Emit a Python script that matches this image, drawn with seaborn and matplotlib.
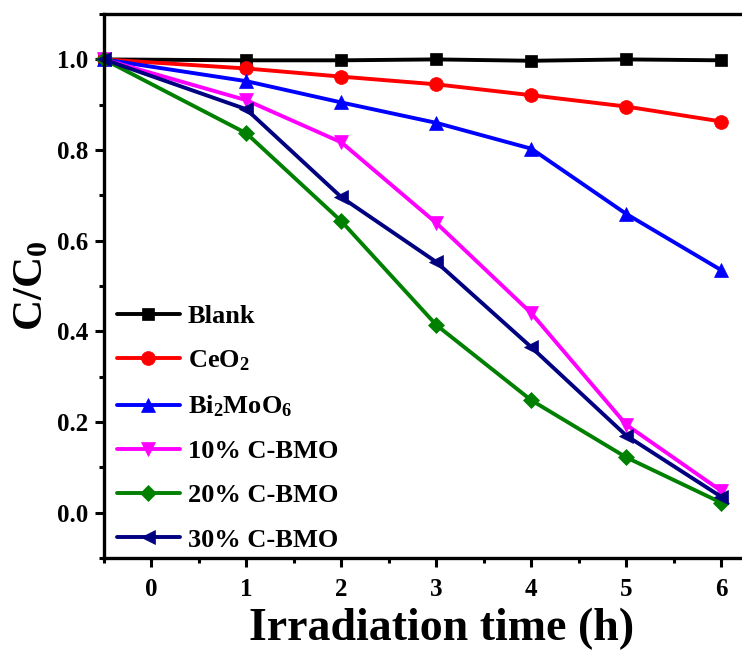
import numpy as np
import pandas as pd
import matplotlib
matplotlib.use("Agg")
import matplotlib.pyplot as plt
import seaborn as sns
from matplotlib.ticker import MultipleLocator

# ---- data ----
time_h = [-0.5, 1, 2, 3, 4, 5, 6]
blank = [1.000, 0.998, 0.998, 1.000, 0.997, 1.000, 0.998]
ceo2 = [1.000, 0.980, 0.962, 0.945, 0.921, 0.896, 0.863]
bmo = [1.000, 0.952, 0.905, 0.860, 0.803, 0.659, 0.535]
cbmo10 = [1.000, 0.910, 0.817, 0.639, 0.440, 0.194, 0.048]
cbmo20 = [1.000, 0.837, 0.643, 0.414, 0.248, 0.122, 0.022]
cbmo30 = [1.000, 0.890, 0.696, 0.553, 0.365, 0.170, 0.035]
labels = ["Blank", "CeO$_2$", "Bi$_2$MoO$_6$", "10% C-BMO", "20% C-BMO", "30% C-BMO"]
x_ticks = [0, 1, 2, 3, 4, 5, 6]
y_ticks = [0.0, 0.2, 0.4, 0.6, 0.8, 1.0]

series = [blank, ceo2, bmo, cbmo10, cbmo20, cbmo30]
colors = ["#000000", "#FF0000", "#0000FF", "#FF00FF", "#008000", "#000080"]
markers = ["s", "o", "^", "v", "D", "<"]
msizes = [9, 10, 10, 10, 8, 10]

sns.set_theme(style="white")
plt.rcParams["font.family"] = ["Liberation Serif", "DejaVu Serif"]
plt.rcParams["font.weight"] = "bold"
plt.rcParams["text.color"] = "black"
plt.rcParams["axes.labelcolor"] = "black"
plt.rcParams["xtick.color"] = "black"
plt.rcParams["ytick.color"] = "black"
plt.rcParams["mathtext.fontset"] = "custom"
plt.rcParams["mathtext.rm"] = "Liberation Serif:bold"
plt.rcParams["mathtext.it"] = "Liberation Serif:bold"
plt.rcParams["mathtext.bf"] = "Liberation Serif:bold"

fig = plt.figure(figsize=(7.42, 6.55), dpi=100)
ax = fig.add_axes([0.140, 0.148, 0.909, 0.8305])

for vals, lab, c, m, ms in zip(series, labels, colors, markers, msizes):
    df = pd.DataFrame({"t": time_h, "v": vals})
    sns.lineplot(data=df, x="t", y="v", ax=ax, color=c, marker=m, markersize=ms,
                 markeredgecolor=c, markeredgewidth=0.5, linewidth=2.8, label=lab,
                 clip_on=False)

ax.set_xlim(-0.5, 6.6)
ax.set_ylim(-0.1, 1.1)
ax.set_xticks(x_ticks)
ax.set_yticks(y_ticks)
ax.set_xticklabels([str(t) for t in x_ticks])
ax.set_yticklabels([f"{t:.1f}" for t in y_ticks])
ax.xaxis.set_minor_locator(MultipleLocator(0.5))
ax.yaxis.set_minor_locator(MultipleLocator(0.1))
ax.tick_params(which="major", direction="out", length=6.5, width=2.2, labelsize=18,
               pad=5, left=True, bottom=True)
ax.tick_params(which="major", axis="x", pad=8)
ax.tick_params(which="minor", direction="out", length=3.5, width=2.2, left=True, bottom=True)
for lab in ax.get_xticklabels() + ax.get_yticklabels():
    lab.set_fontweight("bold")
for s in ["left", "bottom", "top"]:
    ax.spines[s].set_linewidth(2.4)
    ax.spines[s].set_color("black")
ax.spines["right"].set_visible(False)

ax.set_xlabel("Irradiation time (h)", fontsize=33, fontweight="bold", labelpad=5)
ax.set_ylabel("C/C$_0$", fontsize=31, fontweight="bold", labelpad=4)

leg = ax.legend(loc="lower left", bbox_to_anchor=(0.019, 0.012), frameon=False,
                prop={"family": "Liberation Serif", "weight": "bold", "size": 19},
                handlelength=2.4, handletextpad=0.3, labelspacing=0.78,
                borderaxespad=0.0, borderpad=0.0)

fig.savefig("out.png", dpi=100)
